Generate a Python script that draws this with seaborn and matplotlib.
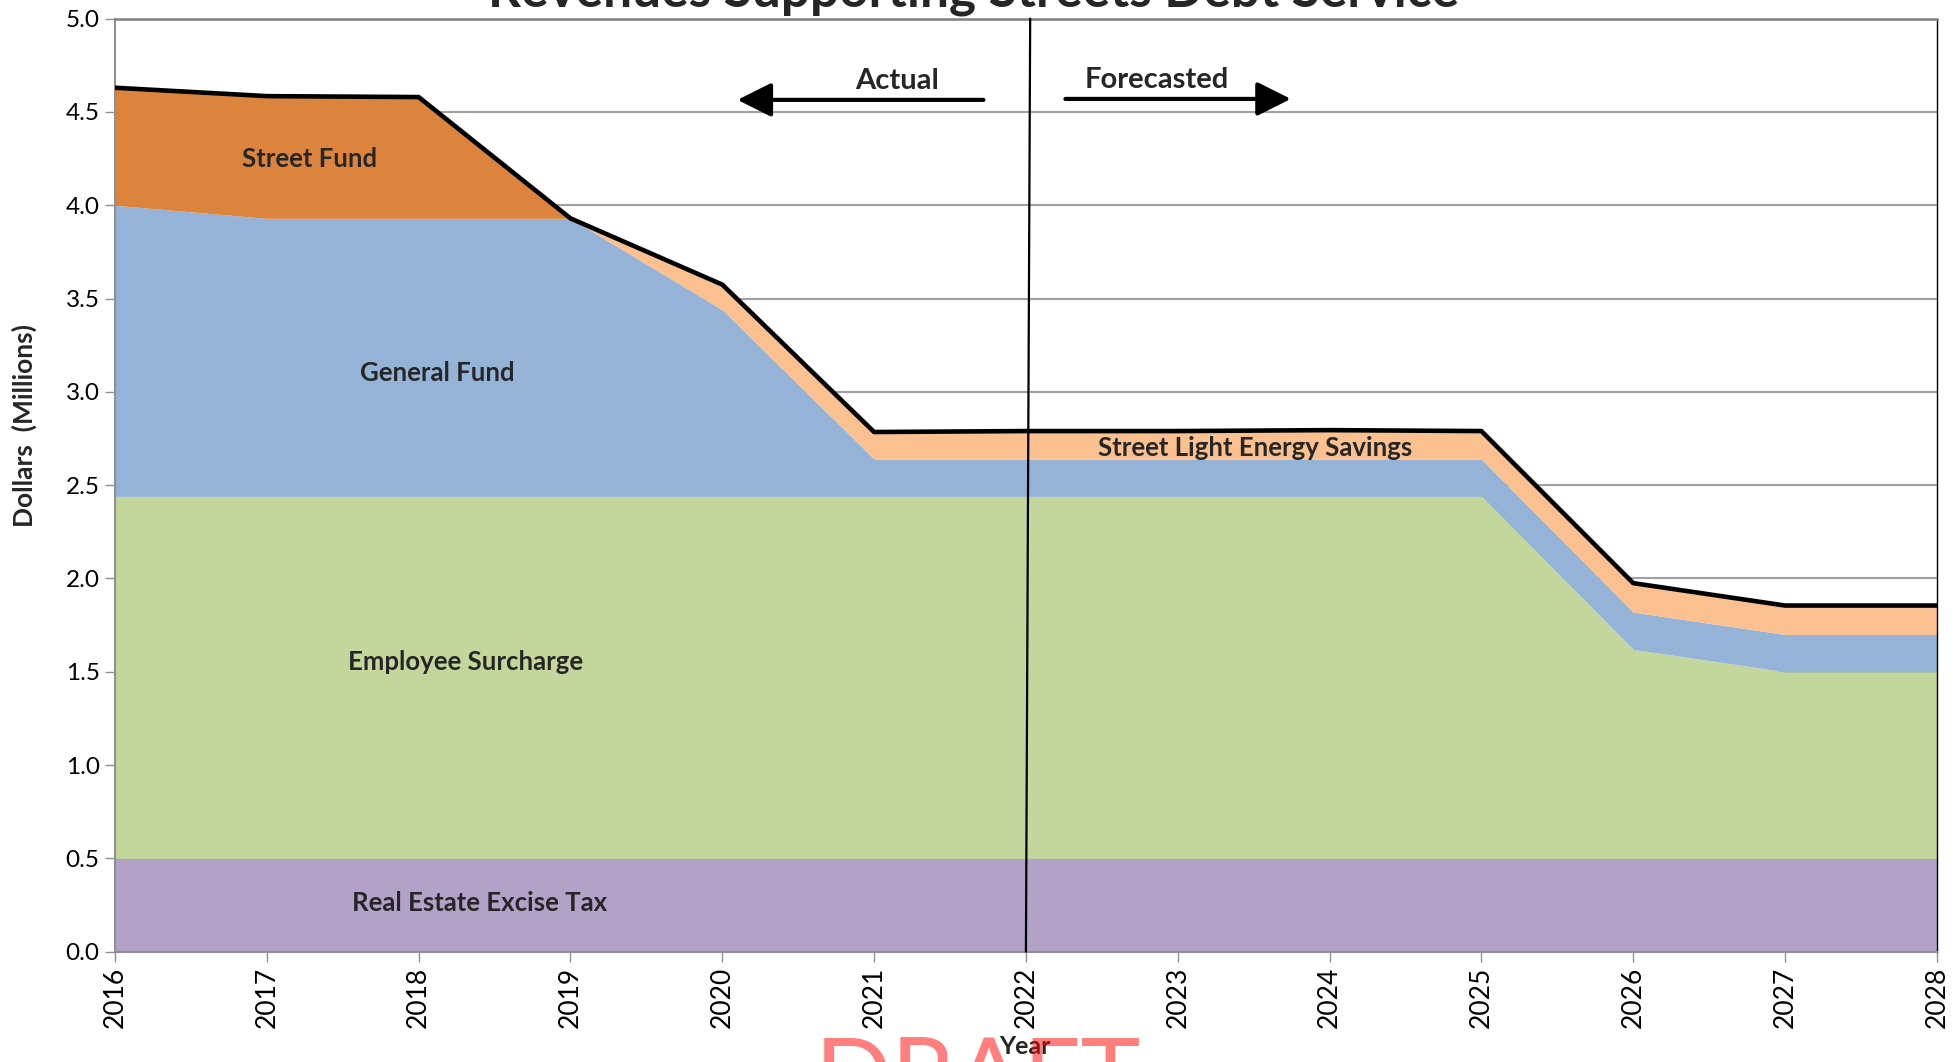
import numpy as np
import pandas as pd
import matplotlib
matplotlib.use("Agg")
import matplotlib.pyplot as plt
import seaborn as sns

# ---- data (millions of dollars) ----
years = [2016, 2017, 2018, 2019, 2020, 2021, 2022, 2023, 2024, 2025, 2026, 2027, 2028]
real_estate_excise_tax = [0.50, 0.50, 0.50, 0.50, 0.50, 0.50, 0.50, 0.50, 0.50, 0.50, 0.50, 0.50, 0.50]
employee_surcharge = [1.94, 1.94, 1.94, 1.94, 1.94, 1.94, 1.94, 1.94, 1.94, 1.94, 1.12, 1.00, 1.00]
general_fund = [1.56, 1.49, 1.49, 1.49, 1.00, 0.20, 0.20, 0.20, 0.20, 0.20, 0.20, 0.20, 0.20]
street_light_savings = [0.00, 0.00, 0.00, 0.00, 0.135, 0.145, 0.15, 0.15, 0.155, 0.15, 0.155, 0.155, 0.155]
street_fund = [0.63, 0.655, 0.65, 0.00, 0.00, 0.00, 0.00, 0.00, 0.00, 0.00, 0.00, 0.00, 0.00]

series_names = ["Real Estate Excise Tax", "Employee Surcharge", "General Fund",
                "Street Light Energy Savings", "Street Fund"]
colors = ["#B2A2C7", "#C3D69B", "#95B3D7", "#FAC090", "#DC843E"]

df = pd.DataFrame({
    "Year": years,
    "Real Estate Excise Tax": real_estate_excise_tax,
    "Employee Surcharge": employee_surcharge,
    "General Fund": general_fund,
    "Street Light Energy Savings": street_light_savings,
    "Street Fund": street_fund,
})
df["Total"] = df[series_names].sum(axis=1)

sns.set_theme(style="white")
plt.rcParams["font.family"] = ["Lato", "DejaVu Sans"]

fig = plt.figure(figsize=(19.59, 10.62), dpi=100)
ax = fig.add_axes([0.0587, 0.1039, 0.930, 0.8785])

ax.stackplot(df["Year"], *[df[n] for n in series_names], colors=colors,
             linewidth=0, zorder=1)
sns.lineplot(data=df, x="Year", y="Total", color="black", linewidth=3.3,
             ax=ax, zorder=4)

ax.set_xlim(2016, 2028)
ax.set_ylim(0, 5)
ax.set_yticks(np.arange(0, 5.01, 0.5))
ax.set_yticklabels([f"{v:.1f}" for v in np.arange(0, 5.01, 0.5)], fontsize=17.5)
ax.set_xticks(years)
ax.set_xticklabels([str(y) for y in years], rotation=90, fontsize=19)
ax.yaxis.grid(True, color="#A0A0A0", linewidth=1.5, zorder=0)
ax.set_axisbelow(True)
ax.tick_params(axis="both", which="both", direction="out", length=7, width=1,
               color="#909090", pad=4, labelcolor="black", bottom=True, left=True)
ax.set_xlabel("")
ax.set_ylabel("")
for side in ["left", "bottom"]:
    ax.spines[side].set_color("#909090")
    ax.spines[side].set_linewidth(1.5)
ax.spines["top"].set_color("#808080")
ax.spines["top"].set_linewidth(1.8)
ax.spines["right"].set_color("black")
ax.spines["right"].set_linewidth(1.0)

# divider between actual and forecast
ax.plot([2022.028, 2022.0], [5.0, 0.0], color="black", linewidth=1.6, zorder=5,
        clip_on=False)

# arrows
arrow_style = "-|>,head_length=0.8,head_width=0.4"
ax.annotate("", xy=(2020.10, 4.565), xytext=(2021.72, 4.565),
            arrowprops=dict(arrowstyle=arrow_style, color="black", lw=3.0,
                            mutation_scale=26, shrinkA=0, shrinkB=0), zorder=6)
ax.annotate("", xy=(2023.745, 4.57), xytext=(2022.26, 4.57),
            arrowprops=dict(arrowstyle=arrow_style, color="black", lw=3.0,
                            mutation_scale=26, shrinkA=0, shrinkB=0), zorder=6)
ax.text(2021.15, 4.665, "Actual", fontsize=21, fontweight="bold", ha="center", va="center")
ax.text(2022.86, 4.67, "Forecasted", fontsize=21, fontweight="bold", ha="center", va="center")

# area labels
lab_kw = dict(fontsize=18.5, fontweight="bold", ha="center", va="center", zorder=7)
ax.text(2017.28, 4.25, "Street Fund", **lab_kw)
ax.text(2018.12, 3.10, "General Fund", **lab_kw)
ax.text(2018.31, 1.553, "Employee Surcharge", **lab_kw)
ax.text(2018.40, 0.26, "Real Estate Excise Tax", **lab_kw)
ax.text(2023.51, 2.70, "Street Light Energy Savings", **lab_kw)

# figure texts
fig.text(0.497, 0.994, "Revenues Supporting Streets Debt Service", fontsize=37,
         fontweight="bold", ha="center", va="baseline")
fig.text(24 / 1959, 1 - 425 / 1062, "Dollars  (Millions)", fontsize=19,
         fontweight="bold", rotation=90, ha="center", va="center")
fig.text(1025 / 1959, 1 - 1046 / 1062, "Year", fontsize=18, fontweight="bold",
         ha="center", va="center")
fig.text(978 / 1959, -0.045, "DRAFT", fontsize=73, color="red", alpha=0.5,
         ha="center", va="baseline", zorder=10)

fig.savefig("out.png", dpi=100)
